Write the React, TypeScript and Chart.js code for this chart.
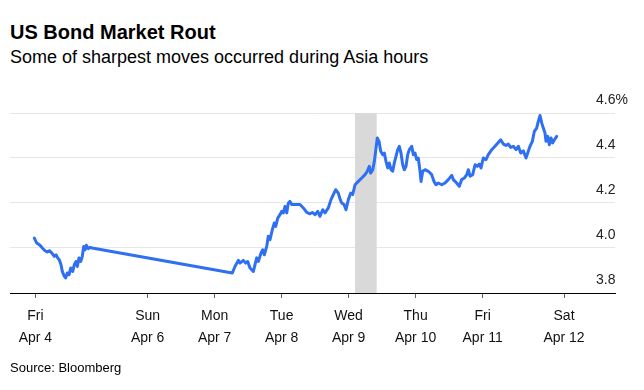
import React, { useEffect, useRef } from 'react';
import { Chart, registerables } from 'chart.js';

Chart.register(...registerables);

// x values are in days since Fri Apr 4 00:00 (axis compressed as in the source chart)
const dayPositions = [
  0.309, 0.345, 0.394, 0.428, 0.469, 0.503, 0.533, 0.569, 0.607, 0.633, 0.658, 0.682, 0.707, 0.727,
  0.757, 0.778, 0.801, 0.827, 0.852, 0.882, 0.906, 0.931, 0.951, 0.976, 1.001, 1.025, 1.046, 1.066,
  1.085, 1.115, 1.14, 1.17,
  3.264, 3.304, 3.354, 3.379, 3.428, 3.464, 3.494, 3.528, 3.578, 3.628, 3.652, 3.693, 3.718, 3.742,
  3.778, 3.801, 3.827, 3.861, 3.891, 3.912, 3.942, 3.976, 4.001, 4.025, 4.051, 4.076, 4.1, 4.125,
  4.151, 4.2, 4.275, 4.324, 4.375, 4.424, 4.458, 4.499, 4.539, 4.573, 4.613, 4.648, 4.697, 4.737,
  4.772, 4.807, 4.846, 4.875, 4.897, 4.931, 4.961, 4.996, 5.031, 5.061, 5.096, 5.145, 5.196, 5.245,
  5.279, 5.309, 5.33, 5.36, 5.384, 5.409, 5.428, 5.454, 5.479, 5.509, 5.533, 5.558, 5.584, 5.607,
  5.633, 5.658, 5.682, 5.707, 5.733, 5.757, 5.782, 5.807, 5.831, 5.857, 5.882, 5.906, 5.942, 5.966,
  5.991, 6.016, 6.04, 6.066, 6.081, 6.106, 6.14, 6.19, 6.24, 6.275, 6.304, 6.339, 6.39, 6.439,
  6.488, 6.539, 6.563, 6.613, 6.652, 6.688, 6.727, 6.763, 6.787, 6.812, 6.852, 6.887, 6.921, 6.951,
  6.976, 7.01, 7.051, 7.085, 7.136, 7.185, 7.234, 7.27, 7.309, 7.349, 7.384, 7.419, 7.458, 7.499,
  7.533, 7.569, 7.607, 7.648, 7.682, 7.707, 7.742, 7.772, 7.807, 7.831, 7.857, 7.882, 7.906, 7.931,
  7.946, 7.972, 7.996, 8.021, 8.046, 8.07, 8.106,
];

const yields = [
  4.044, 4.022, 4.012, 4.0, 3.988, 3.982, 3.988, 3.978, 3.963, 3.97, 3.956, 3.948, 3.926, 3.896,
  3.874, 3.867, 3.889, 3.881, 3.911, 3.896, 3.926, 3.94, 3.918, 3.956, 3.94, 3.963, 4.007, 3.992,
  4.012, 3.997, 4.003, 4.0,
  3.889, 3.918, 3.945, 3.933, 3.945, 3.933, 3.94, 3.911, 3.896, 3.956, 3.94, 3.978, 3.992, 3.97,
  4.007, 4.052, 4.037, 4.081, 4.111, 4.096, 4.133, 4.148, 4.163, 4.156, 4.185, 4.156, 4.2, 4.207,
  4.193, 4.193, 4.193, 4.178, 4.158, 4.152, 4.158, 4.148, 4.163, 4.141, 4.17, 4.156, 4.178, 4.215,
  4.237, 4.259, 4.244, 4.215, 4.2, 4.193, 4.17, 4.215, 4.244, 4.237, 4.281, 4.296, 4.311, 4.326,
  4.341, 4.363, 4.333, 4.348, 4.385, 4.444, 4.489, 4.474, 4.43, 4.415, 4.422, 4.385, 4.356, 4.378,
  4.348, 4.341, 4.378, 4.407, 4.437, 4.452, 4.422, 4.37, 4.348, 4.363, 4.415, 4.437, 4.452, 4.415,
  4.422, 4.393, 4.4, 4.341, 4.296, 4.341, 4.348, 4.341, 4.326, 4.296, 4.281, 4.289, 4.281, 4.289,
  4.304, 4.323, 4.304, 4.289, 4.274, 4.304, 4.311, 4.326, 4.348, 4.319, 4.326, 4.37, 4.363, 4.373,
  4.356, 4.4, 4.393, 4.415, 4.437, 4.452, 4.469, 4.481, 4.462, 4.456, 4.462, 4.447, 4.452, 4.437,
  4.452, 4.422, 4.432, 4.4, 4.43, 4.452, 4.474, 4.518, 4.533, 4.563, 4.589, 4.556, 4.533, 4.511,
  4.474, 4.496, 4.459, 4.489, 4.467, 4.481, 4.496,
];

const tickPositions = [0.325, 2, 3, 4, 5, 6, 7, 8.215];
const tickDays = ['Fri', 'Sun', 'Mon', 'Tue', 'Wed', 'Thu', 'Fri', 'Sat'];
const tickDates = ['Apr 4', 'Apr 6', 'Apr 7', 'Apr 8', 'Apr 9', 'Apr 10', 'Apr 11', 'Apr 12'];
const yTicks = [3.8, 4.0, 4.2, 4.4, 4.6];
const asiaBand = [5.096, 5.419];

const FONT = '"Liberation Sans", Arial, Helvetica, sans-serif';

const yLabel = (v: number) => (Math.abs(v - 4.6) < 1e-6 ? '4.6%' : v.toFixed(1));

const bandPlugin = {
  id: 'asiaBand',
  beforeDatasetsDraw(chart: any) {
    const { ctx, chartArea, scales } = chart;
    const x0 = scales.x.getPixelForValue(asiaBand[0]);
    const x1 = scales.x.getPixelForValue(asiaBand[1]);
    ctx.save();
    ctx.fillStyle = '#d9d9d9';
    ctx.fillRect(x0, chartArea.top, x1 - x0, chartArea.bottom - chartArea.top);
    ctx.restore();
  },
};

// y-axis labels sit above their gridlines, left-aligned near the right edge of the plot
const yLabelPlugin = {
  id: 'yLabelsAbove',
  afterDraw(chart: any) {
    const { ctx, chartArea, scales } = chart;
    const y = scales.y;
    ctx.save();
    ctx.font = `14px ${FONT}`;
    ctx.fillStyle = '#222';
    ctx.textAlign = 'left';
    ctx.textBaseline = 'middle';
    yTicks.forEach((v) => {
      ctx.fillText(yLabel(v), chartArea.right - 19, y.getPixelForValue(v) - 13);
    });
    ctx.restore();
  },
};

export default function App() {
  const ref = useRef<HTMLCanvasElement | null>(null);

  useEffect(() => {
    if (!ref.current) return;
    Chart.defaults.font.family = FONT;
    const chart = new Chart(ref.current, {
      type: 'line',
      data: {
        datasets: [
          {
            data: dayPositions.map((d, i) => ({ x: d, y: yields[i] })),
            borderColor: '#2f6ff2',
            borderWidth: 3,
            pointRadius: 0,
            tension: 0,
            borderJoinStyle: 'round',
            borderCapStyle: 'round',
          },
        ],
      },
      options: {
        animation: false,
        responsive: false,
        maintainAspectRatio: false,
        layout: { padding: { left: 10, right: 0, top: 113, bottom: 0 } },
        plugins: { legend: { display: false }, tooltip: { enabled: false } },
        scales: {
          x: {
            type: 'linear',
            min: -0.054,
            max: 8.976,
            afterBuildTicks: (scale: any) => {
              scale.ticks = tickPositions.map((v) => ({ value: v }));
            },
            afterFit: (scale: any) => {
              scale.height = 97;
            },
            ticks: {
              autoSkip: false,
              maxRotation: 0,
              padding: 7,
              color: '#111',
              font: { size: 14, lineHeight: 1.6 },
              callback: (_v: any, i: number) => [tickDays[i], tickDates[i]],
            },
            grid: {
              drawOnChartArea: false,
              drawTicks: true,
              tickLength: 5,
              tickColor: '#666',
            },
            border: { display: true, color: '#000', width: 1 },
          },
          y: {
            position: 'right',
            min: 3.8,
            max: 4.6,
            afterBuildTicks: (scale: any) => {
              scale.ticks = yTicks.map((v) => ({ value: v }));
            },
            afterFit: (scale: any) => {
              scale.width = 29;
            },
            ticks: {
              display: false,
              callback: (v: any) => yLabel(Number(v)),
            },
            grid: { color: '#e6e6e6', lineWidth: 1, drawTicks: false, tickLength: 0 },
            border: { display: false },
          },
        },
      },
      plugins: [bandPlugin, yLabelPlugin],
    } as any);
    return () => chart.destroy();
  }, []);

  return (
    <div style={{ position: 'absolute', left: 0, top: 0, width: 644, height: 390, background: '#fff', fontFamily: FONT }}>
      <div style={{ position: 'absolute', left: 10, top: 20, fontSize: 20, lineHeight: '24px', fontWeight: 700, color: '#000', whiteSpace: 'nowrap' }}>
        US Bond Market Rout
      </div>
      <div style={{ position: 'absolute', left: 10, top: 46, fontSize: 18, lineHeight: '22px', color: '#000', whiteSpace: 'nowrap' }}>
        Some of sharpest moves occurred during Asia hours
      </div>
      <canvas ref={ref} width={644} height={390} style={{ position: 'absolute', left: 0, top: 0, width: 644, height: 390 }} />
      <div style={{ position: 'absolute', left: 10, top: 360, fontSize: 13, lineHeight: '16px', color: '#000', whiteSpace: 'nowrap' }}>
        Source: Bloomberg
      </div>
    </div>
  );
}
